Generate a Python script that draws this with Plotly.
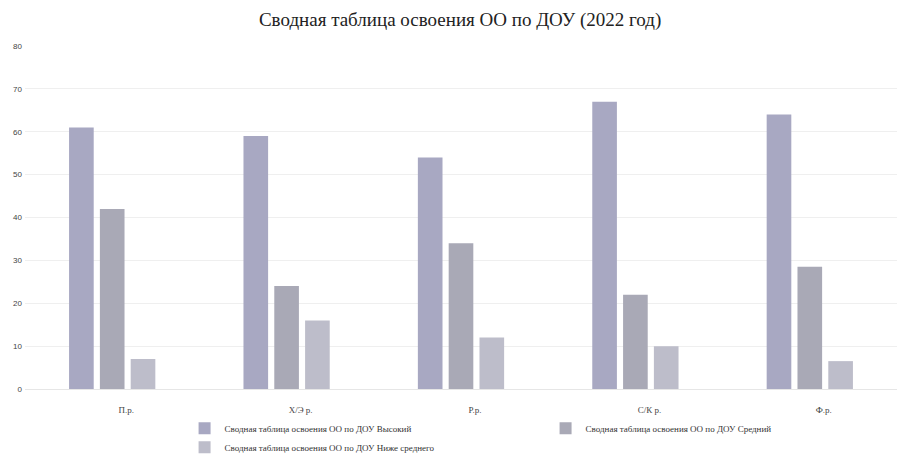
import plotly.graph_objects as go

categories = ["П.р.", "Х/Э р.", "Р.р.", "С/К р.", "Ф.р."]
high = [61, 59, 54, 67, 64]
medium = [42, 24, 34, 22, 28.5]
below = [7, 16, 12, 10, 6.5]
series_names = [
    "Сводная таблица освоения ОО по ДОУ Высокий",
    "Сводная таблица освоения ОО по ДОУ Средний",
    "Сводная таблица освоения ОО по ДОУ Ниже среднего",
]
colors = ["#a8a8c2", "#a9a9b6", "#bdbdca"]
serif = "Liberation Serif, Times New Roman, serif"

fig = go.Figure()
for name, vals, c in zip(series_names, [high, medium, below], colors):
    fig.add_trace(go.Bar(x=categories, y=vals, name=name, marker=dict(color=c, line=dict(width=0))))

fig.update_layout(
    width=902, height=447,
    paper_bgcolor="white", plot_bgcolor="white",
    margin=dict(l=17, r=13, t=38, b=66, autoexpand=False),
    barmode="group", bargap=0.47, bargroupgap=0.2,
    title=dict(text="Сводная таблица освоения ОО по ДОУ (2022 год)", x=0.499, xanchor="center",
               xref="paper", y=0.974, yanchor="middle",
               font=dict(family=serif, size=19, color="#222222")),
    font=dict(family=serif, size=9, color="#444444"),
    legend=dict(orientation="h", x=0.183, xanchor="left", y=-0.072, yanchor="top",
                entrywidth=316, entrywidthmode="pixels", bgcolor="rgba(0,0,0,0)",
                font=dict(family=serif, size=9, color="#333333"),
                itemwidth=30, tracegroupgap=0, traceorder="normal"),
    showlegend=True,
)
fig.update_yaxes(range=[0, 80], dtick=10, showgrid=True, gridcolor="#efefef", zeroline=False,
                 showline=False, automargin=False,
                 tickfont=dict(family="Liberation Sans", size=8, color="#444444"),
                 ticklabelstandoff=2)
fig.update_xaxes(showline=True, linecolor="#e6e6e6", showgrid=False, automargin=False,
                 ticklabelshift=14, ticklabelstandoff=12,
                 tickfont=dict(family=serif, size=9, color="#444444"))

fig.write_html("out.html")
